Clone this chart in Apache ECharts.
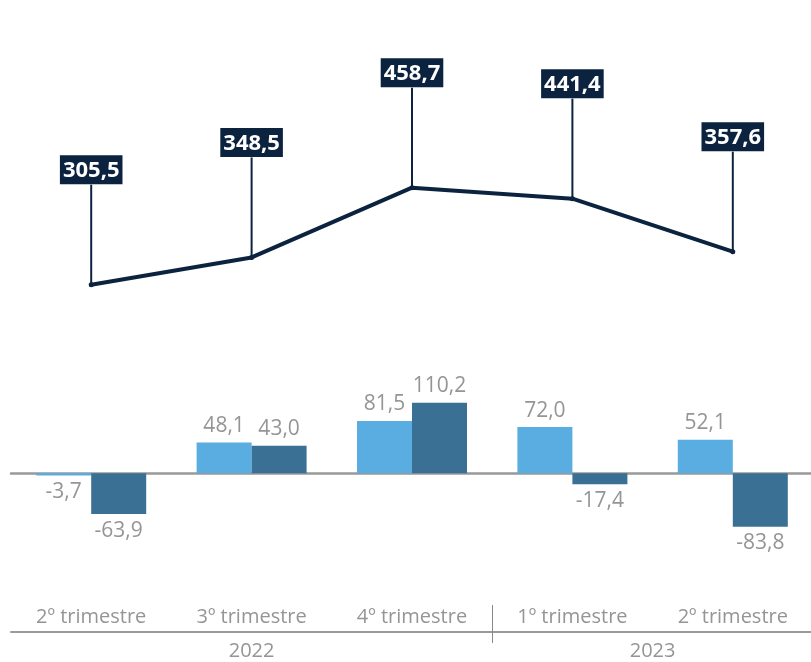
<!DOCTYPE html>
<html>
<head>
<meta charset="utf-8">
<script src="https://cdn.jsdelivr.net/npm/echarts@6/dist/echarts.min.js"></script>
<style>
  html, body { margin: 0; padding: 0; background: #fff; }
  #chart { width: 811px; height: 662px; }
</style>
</head>
<body>
<div id="chart"></div>
<script>
// dados
let quarters = ['2º trimestre', '3º trimestre', '4º trimestre', '1º trimestre', '2º trimestre'];
let years = ['2022', '2023'];
let lineValues = [305.5, 348.5, 458.7, 441.4, 357.6];
let barLight = [-3.7, 48.1, 81.5, 72.0, 52.1];
let barDark = [-63.9, 43.0, 110.2, -17.4, -83.8];

let navy = '#0c2340';
let grey = '#959595';

function fmt(v) {
    return v.toFixed(1).replace('.', ',');
}

function barData(values) {
    return values.map(function (v) {
        return {value: v, label: {position: v < 0 ? 'bottom' : 'top'}};
    });
}

let myChart = echarts.init(document.getElementById('chart'));

let option = {
    animation: false,
    grid: [
        {left: 11, right: -2, top: 35, bottom: 184, outerBoundsMode: 'none'},
        {left: 11, right: -2, top: 340, bottom: 30, outerBoundsMode: 'none'}
    ],
    xAxis: [
        {gridIndex: 0, type: 'category', data: quarters, show: false},
        {
            gridIndex: 1, type: 'category', data: quarters,
            axisLine: {onZero: true, lineStyle: {color: '#999', width: 2.5}},
            axisTick: {show: false},
            axisLabel: {show: false}
        },
        {
            gridIndex: 1, type: 'category', data: quarters, position: 'bottom',
            axisLine: {onZero: false, lineStyle: {color: '#999', width: 2}},
            axisTick: {show: false},
            axisLabel: {
                inside: true, margin: 5, color: grey,
                fontFamily: 'Open Sans', fontSize: 20
            }
        },
        {
            gridIndex: 1, type: 'value', min: 0, max: 5, position: 'bottom',
            axisLine: {show: false, onZero: false},
            splitLine: {show: false},
            axisTick: {customValues: [3], length: 11, lineStyle: {color: '#888', width: 1}},
            axisLabel: {
                customValues: [1.5, 4], margin: 9, color: grey,
                fontFamily: 'Open Sans', fontSize: 20,
                formatter: function (v) { return v < 3 ? years[0] : years[1]; }
            }
        },
        {
            gridIndex: 1, type: 'value', min: 0, max: 5, position: 'bottom',
            axisLine: {show: false, onZero: false},
            splitLine: {show: false},
            axisTick: {customValues: [3], inside: true, length: 27, lineStyle: {color: '#888', width: 1}},
            axisLabel: {show: false}
        }
    ],
    yAxis: [
        {gridIndex: 0, type: 'value', min: 0, max: 700, show: false},
        {gridIndex: 1, type: 'value', min: -248, max: 208, show: false}
    ],
    series: [
        {
            type: 'custom',
            xAxisIndex: 0,
            yAxisIndex: 0,
            data: lineValues.map(function (v, i) { return [i, v]; }),
            renderItem: function (params, api) {
                let p = api.coord([api.value(0), api.value(1)]);
                return {
                    type: 'line',
                    shape: {x1: p[0], y1: p[1], x2: p[0], y2: p[1] - 100},
                    style: {stroke: navy, lineWidth: 2}
                };
            },
            z: 1
        },
        {
            type: 'line',
            xAxisIndex: 0,
            yAxisIndex: 0,
            data: lineValues,
            symbol: 'circle',
            symbolSize: 5,
            itemStyle: {color: navy},
            lineStyle: {color: navy, width: 4, cap: 'round', join: 'round'},
            label: {
                show: true,
                position: 'top',
                distance: 98,
                formatter: function (p) { return fmt(p.value); },
                color: '#fff',
                backgroundColor: navy,
                fontFamily: 'Open Sans',
                fontWeight: 'bold',
                fontSize: 22,
                lineHeight: 23,
                padding: [4, 3, 2, 3]
            },
            z: 3
        },
        {
            type: 'bar',
            xAxisIndex: 1,
            yAxisIndex: 1,
            data: barData(barLight),
            barWidth: 55,
            barGap: 0,
            itemStyle: {color: '#5aade0'},
            label: {
                show: true, distance: 6, color: grey,
                fontFamily: 'Open Sans', fontSize: 21,
                formatter: function (p) { return fmt(p.value); }
            }
        },
        {
            type: 'bar',
            xAxisIndex: 1,
            yAxisIndex: 1,
            data: barData(barDark),
            barWidth: 55,
            barGap: 0,
            itemStyle: {color: '#3a7094'},
            label: {
                show: true, distance: 6, color: grey,
                fontFamily: 'Open Sans', fontSize: 21,
                formatter: function (p) { return fmt(p.value); }
            }
        }
    ]
};

myChart.setOption(option);
</script>
</body>
</html>
